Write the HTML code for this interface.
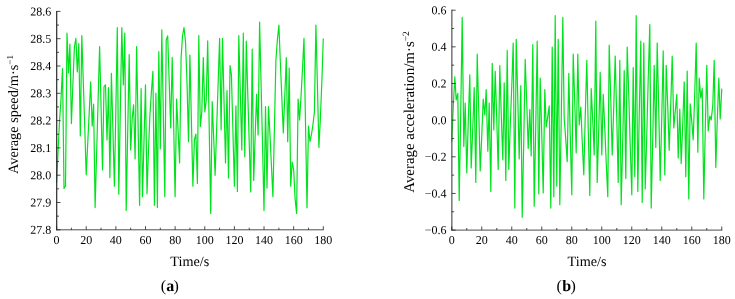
<!DOCTYPE html>
<html><head><meta charset="utf-8"><title>Average speed and acceleration</title>
<style>
html,body{margin:0;padding:0;background:#fff;}
body{width:735px;height:299px;overflow:hidden;}
svg{display:block;}
text{text-rendering:geometricPrecision;font-family:"Liberation Serif","Times New Roman",serif;fill:#000;}
.tk{font-size:12px;}
.lb{font-size:14.2px;}
.cap{font-size:16px;}
</style></head><body>
<svg width="735" height="299" viewBox="0 0 735 299">
<rect width="735" height="299" fill="#ffffff"/>
<g id="plot-a">
<polyline fill="none" stroke="#00e31c" stroke-width="1.2" stroke-linejoin="round" points="56.6,183.0 58.1,150.0 59.6,120.0 61.0,99.0 62.5,68.6 64.0,188.5 65.5,186.0 67.0,33.2 68.5,73.0 69.9,44.1 71.4,123.6 72.9,84.0 74.4,47.0 75.9,38.4 77.3,72.0 78.8,43.7 80.3,136.0 81.8,35.5 83.3,81.9 84.8,128.4 86.2,174.8 87.7,143.8 89.2,112.9 90.7,81.9 92.2,126.0 93.6,104.0 95.1,207.6 96.6,153.9 98.1,100.3 99.6,46.6 101.1,108.3 102.5,170.0 104.0,86.7 105.5,84.8 107.0,140.0 108.5,87.7 109.9,177.6 111.4,73.4 112.9,129.8 114.4,186.2 115.9,106.8 117.3,27.5 118.8,194.2 120.3,110.8 121.8,27.5 123.3,85.0 124.8,33.2 126.2,210.6 127.7,132.6 129.2,54.6 130.7,150.0 132.2,118.0 133.6,104.8 135.1,158.9 136.6,46.6 138.1,126.0 139.6,205.3 141.1,88.6 142.5,196.7 144.0,140.8 145.5,84.8 147.0,193.8 148.5,150.0 149.9,115.0 151.4,92.0 152.9,71.4 154.4,205.3 155.9,93.0 157.4,207.6 158.8,51.7 160.3,149.0 161.8,29.8 163.3,113.2 164.8,196.7 166.2,40.0 167.7,35.9 169.2,81.9 170.7,128.0 172.2,57.4 173.7,127.0 175.1,196.7 176.6,99.0 178.1,131.0 179.6,163.0 181.1,58.0 182.5,36.0 184.0,27.5 185.5,42.0 187.0,82.0 188.5,141.7 189.9,55.0 191.4,120.6 192.9,186.2 194.4,140.0 195.9,134.0 197.4,183.4 198.8,35.5 200.3,126.4 201.8,112.0 203.3,57.5 204.8,112.0 206.2,101.0 207.7,40.9 209.2,127.2 210.7,213.5 212.2,101.5 213.7,138.4 215.1,175.3 216.6,129.7 218.1,84.0 219.6,38.4 221.1,130.0 222.5,38.4 224.0,100.7 225.5,163.0 227.0,90.5 228.5,178.0 230.0,65.7 231.4,74.3 232.9,130.2 234.4,186.2 235.9,105.8 237.4,191.4 238.8,35.5 240.3,92.8 241.8,150.0 243.3,33.2 244.8,157.0 246.3,41.2 247.7,91.4 249.2,141.7 250.7,191.9 252.2,49.2 253.7,180.5 255.1,137.4 256.6,94.3 258.1,135.0 259.6,22.2 261.1,85.0 262.6,147.8 264.0,210.6 265.5,106.7 267.0,188.1 268.5,106.7 270.0,135.0 271.4,165.0 272.9,196.7 274.4,128.5 275.9,60.3 277.4,39.3 278.9,25.0 280.3,61.0 281.8,97.0 283.3,133.0 284.8,95.2 286.3,57.5 287.7,141.7 289.2,68.0 290.7,186.2 292.2,162.0 293.7,170.0 295.1,198.6 296.6,213.5 298.1,99.0 299.6,120.0 301.1,95.0 302.6,66.7 304.0,38.4 305.5,123.1 307.0,207.8 308.5,126.0 310.0,141.7 311.4,135.0 312.9,125.0 314.4,112.0 315.9,25.0 317.4,85.0 318.9,147.4 320.3,120.0 321.8,83.0 323.3,38.4"/>
<path d="M56.7,11.0 V230.3" fill="none" stroke="#2a2a2a" stroke-width="1.2"/>
<path d="M56.1,229.8 H323.8" fill="none" stroke="#444" stroke-width="0.95"/>
<path d="M56.60,229.8 v-3.6" stroke="#222" stroke-width="0.8"/>
<text transform="rotate(0.03 56.60 243.9)" x="56.60" y="243.9" text-anchor="middle" class="tk">0</text>
<path d="M71.42,229.8 v-2.1" stroke="#222" stroke-width="0.8"/>
<path d="M86.23,229.8 v-3.6" stroke="#222" stroke-width="0.8"/>
<text transform="rotate(0.03 86.23 243.9)" x="86.23" y="243.9" text-anchor="middle" class="tk">20</text>
<path d="M101.05,229.8 v-2.1" stroke="#222" stroke-width="0.8"/>
<path d="M115.87,229.8 v-3.6" stroke="#222" stroke-width="0.8"/>
<text transform="rotate(0.03 115.87 243.9)" x="115.87" y="243.9" text-anchor="middle" class="tk">40</text>
<path d="M130.68,229.8 v-2.1" stroke="#222" stroke-width="0.8"/>
<path d="M145.50,229.8 v-3.6" stroke="#222" stroke-width="0.8"/>
<text transform="rotate(0.03 145.50 243.9)" x="145.50" y="243.9" text-anchor="middle" class="tk">60</text>
<path d="M160.32,229.8 v-2.1" stroke="#222" stroke-width="0.8"/>
<path d="M175.13,229.8 v-3.6" stroke="#222" stroke-width="0.8"/>
<text transform="rotate(0.03 175.13 243.9)" x="175.13" y="243.9" text-anchor="middle" class="tk">80</text>
<path d="M189.95,229.8 v-2.1" stroke="#222" stroke-width="0.8"/>
<path d="M204.77,229.8 v-3.6" stroke="#222" stroke-width="0.8"/>
<text transform="rotate(0.03 204.77 243.9)" x="204.77" y="243.9" text-anchor="middle" class="tk">100</text>
<path d="M219.58,229.8 v-2.1" stroke="#222" stroke-width="0.8"/>
<path d="M234.40,229.8 v-3.6" stroke="#222" stroke-width="0.8"/>
<text transform="rotate(0.03 234.40 243.9)" x="234.40" y="243.9" text-anchor="middle" class="tk">120</text>
<path d="M249.22,229.8 v-2.1" stroke="#222" stroke-width="0.8"/>
<path d="M264.03,229.8 v-3.6" stroke="#222" stroke-width="0.8"/>
<text transform="rotate(0.03 264.03 243.9)" x="264.03" y="243.9" text-anchor="middle" class="tk">140</text>
<path d="M278.85,229.8 v-2.1" stroke="#222" stroke-width="0.8"/>
<path d="M293.67,229.8 v-3.6" stroke="#222" stroke-width="0.8"/>
<text transform="rotate(0.03 293.67 243.9)" x="293.67" y="243.9" text-anchor="middle" class="tk">160</text>
<path d="M308.48,229.8 v-2.1" stroke="#222" stroke-width="0.8"/>
<path d="M323.30,229.8 v-3.6" stroke="#222" stroke-width="0.8"/>
<text transform="rotate(0.03 323.30 243.9)" x="323.30" y="243.9" text-anchor="middle" class="tk">180</text>
<path d="M56.6,11.40 h3.9" stroke="#222" stroke-width="0.8"/>
<text transform="rotate(0.03 51.3 15.40)" x="51.3" y="15.40" text-anchor="end" class="tk">28.6</text>
<path d="M56.6,25.05 h2.4" stroke="#222" stroke-width="0.8"/>
<path d="M56.6,38.70 h3.9" stroke="#222" stroke-width="0.8"/>
<text transform="rotate(0.03 51.3 42.70)" x="51.3" y="42.70" text-anchor="end" class="tk">28.5</text>
<path d="M56.6,52.35 h2.4" stroke="#222" stroke-width="0.8"/>
<path d="M56.6,66.00 h3.9" stroke="#222" stroke-width="0.8"/>
<text transform="rotate(0.03 51.3 70.00)" x="51.3" y="70.00" text-anchor="end" class="tk">28.4</text>
<path d="M56.6,79.65 h2.4" stroke="#222" stroke-width="0.8"/>
<path d="M56.6,93.30 h3.9" stroke="#222" stroke-width="0.8"/>
<text transform="rotate(0.03 51.3 97.30)" x="51.3" y="97.30" text-anchor="end" class="tk">28.3</text>
<path d="M56.6,106.95 h2.4" stroke="#222" stroke-width="0.8"/>
<path d="M56.6,120.60 h3.9" stroke="#222" stroke-width="0.8"/>
<text transform="rotate(0.03 51.3 124.60)" x="51.3" y="124.60" text-anchor="end" class="tk">28.2</text>
<path d="M56.6,134.25 h2.4" stroke="#222" stroke-width="0.8"/>
<path d="M56.6,147.90 h3.9" stroke="#222" stroke-width="0.8"/>
<text transform="rotate(0.03 51.3 151.90)" x="51.3" y="151.90" text-anchor="end" class="tk">28.1</text>
<path d="M56.6,161.55 h2.4" stroke="#222" stroke-width="0.8"/>
<path d="M56.6,175.20 h3.9" stroke="#222" stroke-width="0.8"/>
<text transform="rotate(0.03 51.3 179.20)" x="51.3" y="179.20" text-anchor="end" class="tk">28.0</text>
<path d="M56.6,188.85 h2.4" stroke="#222" stroke-width="0.8"/>
<path d="M56.6,202.50 h3.9" stroke="#222" stroke-width="0.8"/>
<text transform="rotate(0.03 51.3 206.50)" x="51.3" y="206.50" text-anchor="end" class="tk">27.9</text>
<path d="M56.6,216.15 h2.4" stroke="#222" stroke-width="0.8"/>
<path d="M56.6,229.80 h3.9" stroke="#222" stroke-width="0.8"/>
<text transform="rotate(0.03 51.3 233.80)" x="51.3" y="233.80" text-anchor="end" class="tk">27.8</text>
<text class="lb" x="189.8" y="265.5" text-anchor="middle">Time/s</text>
<text class="lb" style="font-size:14.35px" transform="translate(17.7,114.5) rotate(-90)" text-anchor="middle">Average speed/m·s<tspan font-size="9" dy="-5">−1</tspan></text>
<text class="cap" y="290.9"><tspan x="160.85">(</tspan><tspan x="166.3" font-weight="bold">a</tspan><tspan x="173.4">)</tspan></text>
</g>
<g id="plot-b">
<polyline fill="none" stroke="#00e31c" stroke-width="1.2" stroke-linejoin="round" points="451.8,142.0 453.2,108.0 454.8,76.8 456.2,100.0 457.8,93.4 459.2,200.5 460.8,109.0 462.2,17.4 463.8,146.5 465.2,103.0 466.8,172.9 468.2,123.9 469.8,74.9 471.2,168.0 472.8,127.8 474.2,87.7 475.8,182.4 477.2,54.2 478.8,112.6 480.2,171.0 481.8,135.0 483.2,99.0 484.8,115.0 486.2,89.6 487.8,151.2 489.2,103.0 490.8,191.4 492.2,63.4 493.8,130.0 495.2,71.4 496.8,120.4 498.2,169.4 499.8,65.7 501.2,112.8 502.8,159.8 504.2,82.9 505.8,180.5 507.2,50.4 508.8,169.4 510.2,127.3 511.8,85.2 513.2,43.1 514.8,208.1 516.2,39.3 517.8,99.1 519.2,158.9 520.8,85.7 522.2,217.3 523.8,138.4 525.2,59.4 526.8,103.9 528.2,148.4 529.8,109.6 531.2,156.0 532.8,44.7 534.2,206.2 535.8,123.7 537.2,41.2 538.8,193.8 540.2,78.1 541.8,135.5 543.2,192.9 544.8,89.6 546.2,127.0 547.8,116.4 549.2,105.8 550.8,208.1 552.2,47.0 553.8,196.7 555.2,15.5 556.8,186.2 558.2,39.3 559.8,204.7 561.2,122.0 562.8,17.4 564.2,118.0 565.8,140.0 567.2,161.7 568.8,73.4 570.2,134.1 571.8,194.8 573.2,54.2 574.8,103.6 576.2,153.0 577.8,54.2 579.2,125.0 580.8,107.0 582.2,140.9 583.8,174.8 585.2,117.6 586.8,60.3 588.2,127.9 589.8,195.4 591.2,88.6 592.8,121.8 594.2,155.0 595.8,21.2 597.2,182.4 598.8,127.4 600.2,72.4 601.8,155.0 603.2,94.3 604.8,128.4 606.2,162.6 607.8,196.7 609.2,45.0 610.8,100.0 612.2,155.0 613.8,105.5 615.2,56.1 616.8,119.2 618.2,182.4 619.8,60.3 621.2,204.7 622.8,137.6 624.2,70.5 625.8,178.6 627.2,47.0 628.8,96.3 630.2,145.5 631.8,194.8 633.2,67.6 634.8,176.7 636.2,15.5 637.8,191.4 639.2,116.3 640.8,41.2 642.2,202.4 643.8,43.1 645.2,189.0 646.8,134.2 648.2,79.4 649.8,24.6 651.2,208.1 652.8,136.7 654.2,65.3 655.8,147.4 657.2,43.1 658.8,111.8 660.2,180.5 661.8,115.7 663.2,50.8 664.8,174.8 666.2,65.3 667.8,107.8 669.2,150.3 670.8,103.2 672.2,56.1 673.8,128.0 675.2,112.0 676.8,94.3 678.2,158.0 679.8,109.2 681.2,163.6 682.8,122.8 684.2,81.9 685.8,176.7 687.2,71.0 688.8,199.0 690.2,103.9 691.8,121.9 693.2,139.8 694.8,91.5 696.2,43.1 697.8,152.2 699.2,78.1 700.8,98.0 702.2,88.6 703.8,199.0 705.2,132.2 706.8,65.3 708.2,131.0 709.8,116.0 711.2,120.0 712.8,105.0 714.2,60.3 715.8,167.5 717.2,122.8 718.8,78.1 720.2,119.0 721.8,88.6"/>
<path d="M451.85,9.799999999999999 V230.6" fill="none" stroke="#555" stroke-width="1.2"/>
<path d="M451.25,230.1 H722.25" fill="none" stroke="#444" stroke-width="0.95"/>
<path d="M451.75,230.1 v-3.6" stroke="#222" stroke-width="0.8"/>
<text transform="rotate(0.03 451.75 243.9)" x="451.75" y="243.9" text-anchor="middle" class="tk">0</text>
<path d="M466.75,230.1 v-2.1" stroke="#222" stroke-width="0.8"/>
<path d="M481.75,230.1 v-3.6" stroke="#222" stroke-width="0.8"/>
<text transform="rotate(0.03 481.75 243.9)" x="481.75" y="243.9" text-anchor="middle" class="tk">20</text>
<path d="M496.75,230.1 v-2.1" stroke="#222" stroke-width="0.8"/>
<path d="M511.75,230.1 v-3.6" stroke="#222" stroke-width="0.8"/>
<text transform="rotate(0.03 511.75 243.9)" x="511.75" y="243.9" text-anchor="middle" class="tk">40</text>
<path d="M526.75,230.1 v-2.1" stroke="#222" stroke-width="0.8"/>
<path d="M541.75,230.1 v-3.6" stroke="#222" stroke-width="0.8"/>
<text transform="rotate(0.03 541.75 243.9)" x="541.75" y="243.9" text-anchor="middle" class="tk">60</text>
<path d="M556.75,230.1 v-2.1" stroke="#222" stroke-width="0.8"/>
<path d="M571.75,230.1 v-3.6" stroke="#222" stroke-width="0.8"/>
<text transform="rotate(0.03 571.75 243.9)" x="571.75" y="243.9" text-anchor="middle" class="tk">80</text>
<path d="M586.75,230.1 v-2.1" stroke="#222" stroke-width="0.8"/>
<path d="M601.75,230.1 v-3.6" stroke="#222" stroke-width="0.8"/>
<text transform="rotate(0.03 601.75 243.9)" x="601.75" y="243.9" text-anchor="middle" class="tk">100</text>
<path d="M616.75,230.1 v-2.1" stroke="#222" stroke-width="0.8"/>
<path d="M631.75,230.1 v-3.6" stroke="#222" stroke-width="0.8"/>
<text transform="rotate(0.03 631.75 243.9)" x="631.75" y="243.9" text-anchor="middle" class="tk">120</text>
<path d="M646.75,230.1 v-2.1" stroke="#222" stroke-width="0.8"/>
<path d="M661.75,230.1 v-3.6" stroke="#222" stroke-width="0.8"/>
<text transform="rotate(0.03 661.75 243.9)" x="661.75" y="243.9" text-anchor="middle" class="tk">140</text>
<path d="M676.75,230.1 v-2.1" stroke="#222" stroke-width="0.8"/>
<path d="M691.75,230.1 v-3.6" stroke="#222" stroke-width="0.8"/>
<text transform="rotate(0.03 691.75 243.9)" x="691.75" y="243.9" text-anchor="middle" class="tk">160</text>
<path d="M706.75,230.1 v-2.1" stroke="#222" stroke-width="0.8"/>
<path d="M721.75,230.1 v-3.6" stroke="#222" stroke-width="0.8"/>
<text transform="rotate(0.03 721.75 243.9)" x="721.75" y="243.9" text-anchor="middle" class="tk">180</text>
<path d="M451.75,10.20 h3.9" stroke="#222" stroke-width="0.8"/>
<text transform="rotate(0.03 446.5 14.20)" x="446.5" y="14.20" text-anchor="end" class="tk">0.6</text>
<path d="M451.75,28.52 h2.4" stroke="#222" stroke-width="0.8"/>
<path d="M451.75,46.85 h3.9" stroke="#222" stroke-width="0.8"/>
<text transform="rotate(0.03 446.5 50.85)" x="446.5" y="50.85" text-anchor="end" class="tk">0.4</text>
<path d="M451.75,65.17 h2.4" stroke="#222" stroke-width="0.8"/>
<path d="M451.75,83.50 h3.9" stroke="#222" stroke-width="0.8"/>
<text transform="rotate(0.03 446.5 87.50)" x="446.5" y="87.50" text-anchor="end" class="tk">0.2</text>
<path d="M451.75,101.83 h2.4" stroke="#222" stroke-width="0.8"/>
<path d="M451.75,120.15 h3.9" stroke="#222" stroke-width="0.8"/>
<text transform="rotate(0.03 446.5 124.15)" x="446.5" y="124.15" text-anchor="end" class="tk">0.0</text>
<path d="M451.75,138.47 h2.4" stroke="#222" stroke-width="0.8"/>
<path d="M451.75,156.80 h3.9" stroke="#222" stroke-width="0.8"/>
<text transform="rotate(0.03 446.5 160.80)" x="446.5" y="160.80" text-anchor="end" class="tk">−0.2</text>
<path d="M451.75,175.12 h2.4" stroke="#222" stroke-width="0.8"/>
<path d="M451.75,193.45 h3.9" stroke="#222" stroke-width="0.8"/>
<text transform="rotate(0.03 446.5 197.45)" x="446.5" y="197.45" text-anchor="end" class="tk">−0.4</text>
<path d="M451.75,211.77 h2.4" stroke="#222" stroke-width="0.8"/>
<path d="M451.75,230.10 h3.9" stroke="#222" stroke-width="0.8"/>
<text transform="rotate(0.03 446.5 234.10)" x="446.5" y="234.10" text-anchor="end" class="tk">−0.6</text>
<text class="lb" x="587" y="265.6" text-anchor="middle">Time/s</text>
<text class="lb" style="font-size:14.9px" transform="translate(414.1,112) rotate(-90)" text-anchor="middle">Average acceleration/m·s<tspan font-size="9.5" dy="-5.3">−2</tspan></text>
<text class="cap" y="290.9"><tspan x="556.4">(</tspan><tspan x="562.2" font-weight="bold">b</tspan><tspan x="570.6">)</tspan></text>
</g>
</svg>
</body></html>
